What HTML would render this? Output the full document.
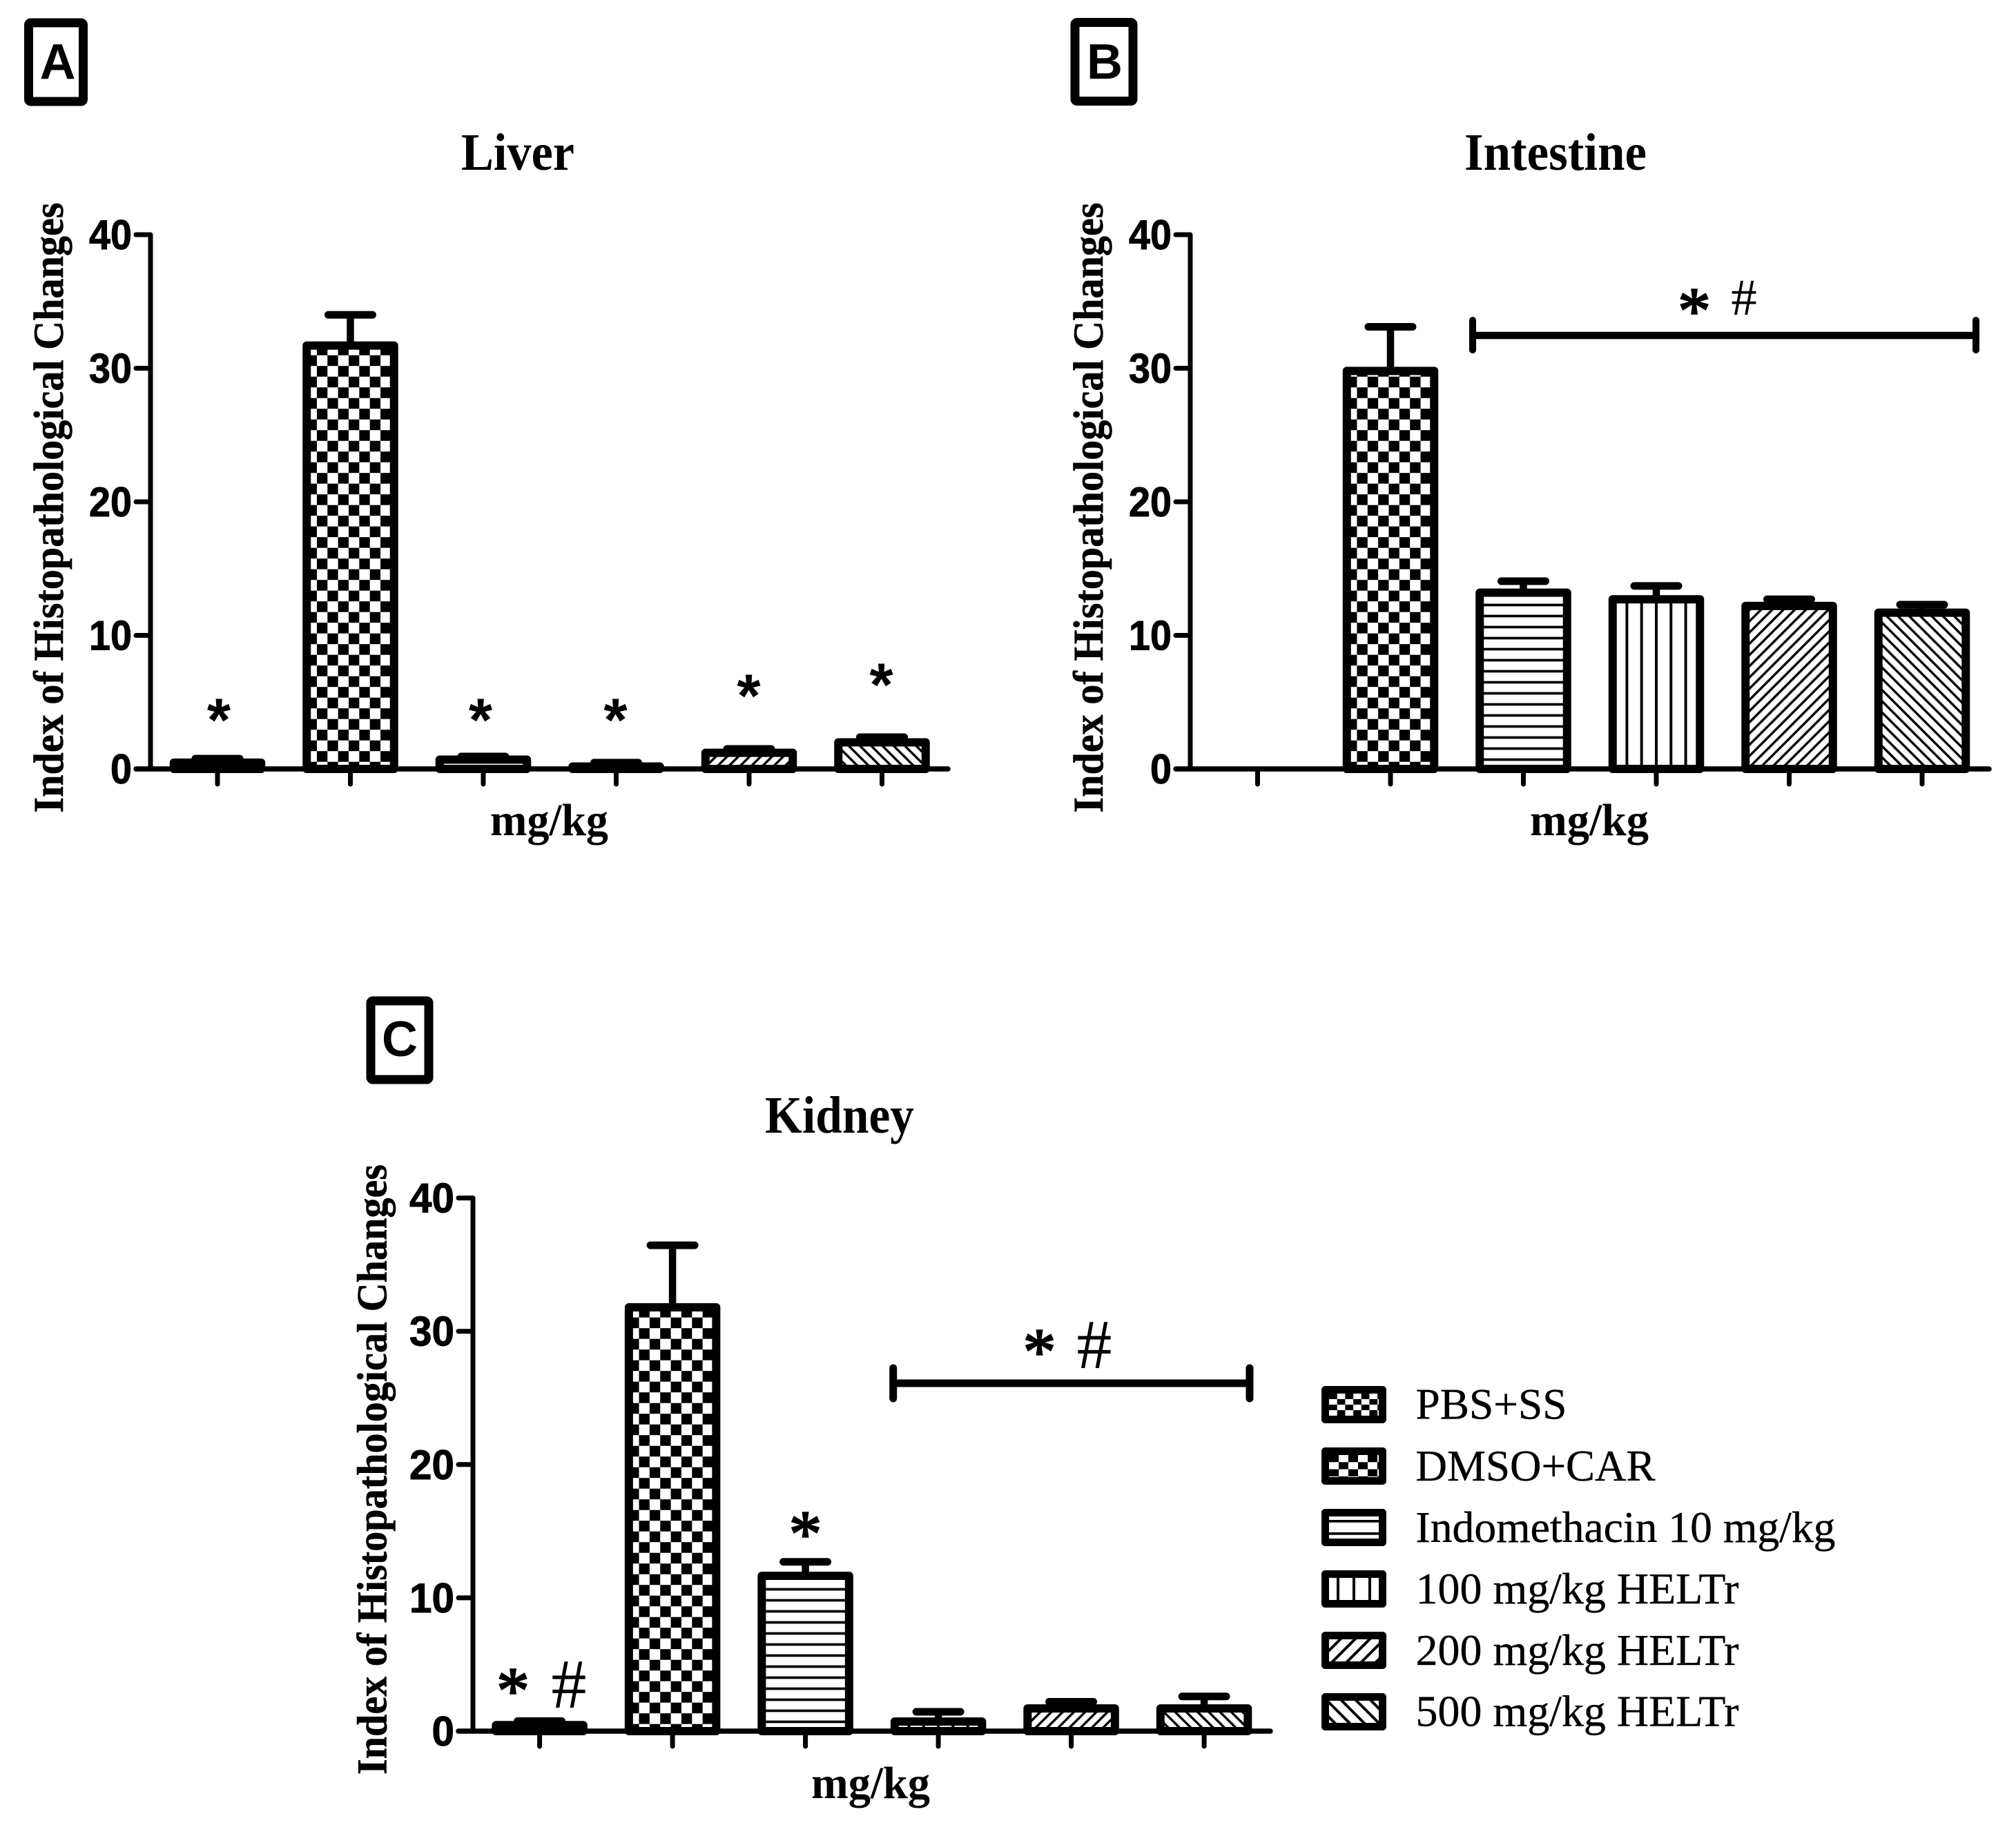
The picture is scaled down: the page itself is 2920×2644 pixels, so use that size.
<!DOCTYPE html>
<html lang="en">
<head>
<meta charset="utf-8">
<title>Index of Histopathological Changes</title>
<style>
html,body{margin:0;padding:0;background:#fff;width:2920px;height:2644px;overflow:hidden}
svg{display:block}
.serif{font-family:"Liberation Serif",serif}
.sans{font-family:"Liberation Sans",sans-serif}
.title{font-family:"Liberation Serif",serif;font-weight:bold;font-size:76px}
.ytitle{font-family:"Liberation Serif",serif;font-weight:bold;font-size:61px;stroke:#000;stroke-width:.6}
.xtitle{font-family:"Liberation Serif",serif;font-weight:bold;font-size:66px}
.tick{font-family:"Liberation Sans",sans-serif;font-weight:bold;font-size:60px;text-anchor:end;stroke:#000;stroke-width:1}
.letter{font-family:"Liberation Sans",sans-serif;font-weight:bold;font-size:72px;text-anchor:middle}
.star-a{font-family:"Liberation Sans",sans-serif;font-weight:bold;font-size:88px;text-anchor:middle}
.star{font-family:"Liberation Serif",serif;font-size:95px;text-anchor:middle;stroke:#000;stroke-width:2.4}
.legend{font-family:"Liberation Serif",serif;font-size:63px;stroke:#000;stroke-width:.4}
.box{fill:none;stroke:#000;stroke-width:13;stroke-linejoin:round}
.bracket{stroke:#000;stroke-linecap:round;fill:none}
</style>
</head>
<body>
<svg id="figure" xmlns="http://www.w3.org/2000/svg" width="2920" height="2644" viewBox="0 0 2920 2644">
  <rect width="2920" height="2644" fill="#fff"/>
  <defs id="pattern-defs"></defs>

  <!-- panel labels -->
  <g>
    <rect class="box" x="41.5" y="33" width="79" height="114" rx="3"/>
    <text class="letter" x="83.5" y="114">A</text>
  </g>
  <g>
    <rect class="box" x="1557" y="32.5" width="84" height="114" rx="3"/>
    <text class="letter" x="1600" y="114">B</text>
  </g>
  <g>
    <rect class="box" x="537" y="1450" width="84" height="114" rx="3"/>
    <text class="letter" x="579" y="1530">C</text>
  </g>

  <!-- titles -->
  <text class="title" x="668" y="246" textLength="164" lengthAdjust="spacingAndGlyphs">Liver</text>
  <text class="title" x="2121" y="246" textLength="264" lengthAdjust="spacingAndGlyphs">Intestine</text>
  <text class="title" x="1108" y="1641" textLength="216" lengthAdjust="spacingAndGlyphs">Kidney</text>

  <!-- y axis titles -->
  <text class="ytitle" transform="translate(91 1177.5) rotate(-90)" textLength="884" lengthAdjust="spacingAndGlyphs">Index of Histopathological Changes</text>
  <text class="ytitle" transform="translate(1597 1177.5) rotate(-90)" textLength="884" lengthAdjust="spacingAndGlyphs">Index of Histopathological Changes</text>
  <text class="ytitle" transform="translate(559.5 2571) rotate(-90)" textLength="884" lengthAdjust="spacingAndGlyphs">Index of Histopathological Changes</text>

  <!-- x axis titles -->
  <text class="xtitle" x="710" y="1210" textLength="171" lengthAdjust="spacingAndGlyphs">mg/kg</text>
  <text class="xtitle" x="2216" y="1210" textLength="172" lengthAdjust="spacingAndGlyphs">mg/kg</text>
  <text class="xtitle" x="1175" y="2605" textLength="172" lengthAdjust="spacingAndGlyphs">mg/kg</text>

  <g id="plots"></g>

  <!-- significance annotations panel A -->
  <text class="star-a" x="317" y="1073">*</text>
  <text class="star-a" x="696" y="1073">*</text>
  <text class="star-a" x="891.5" y="1073">*</text>
  <text class="star-a" x="1084.5" y="1038">*</text>
  <text class="star-a" x="1276.5" y="1022">*</text>

  <!-- significance annotations panel B -->
  <g>
    <line class="bracket" x1="2133" y1="486" x2="2862" y2="486" stroke-width="10.5"/>
    <line class="bracket" x1="2133" y1="464" x2="2133" y2="507" stroke-width="10"/>
    <line class="bracket" x1="2862" y1="464" x2="2862" y2="507" stroke-width="10"/>
  </g>
  <text class="star" x="2454" y="482">*</text>
  <text class="serif" x="2526" y="456" font-size="75" text-anchor="middle">#</text>

  <!-- significance annotations panel C -->
  <g>
    <line class="bracket" x1="1293.7" y1="2004" x2="1810" y2="2004" stroke-width="11"/>
    <line class="bracket" x1="1293.7" y1="1982" x2="1293.7" y2="2026" stroke-width="11"/>
    <line class="bracket" x1="1810" y1="1982" x2="1810" y2="2026" stroke-width="11"/>
  </g>
  <text class="star" x="1505.5" y="1990">*</text>
  <text class="serif" x="1585" y="1982" font-size="102" text-anchor="middle">#</text>
  <text class="star" x="743" y="2481">*</text>
  <text class="serif" x="824" y="2474" font-size="102" text-anchor="middle">#</text>
  <text class="star" x="1166.5" y="2254">*</text>

  <!-- legend -->
  <g id="legend-swatches"></g>
  <g>
    <text class="legend" x="2050.5" y="2055.7" textLength="219" lengthAdjust="spacingAndGlyphs">PBS+SS</text>
    <text class="legend" x="2050.5" y="2145" textLength="347" lengthAdjust="spacingAndGlyphs">DMSO+CAR</text>
    <text class="legend" x="2050.5" y="2234" textLength="608" lengthAdjust="spacingAndGlyphs">Indomethacin 10 mg/kg</text>
    <text class="legend" x="2050.5" y="2323" textLength="468" lengthAdjust="spacingAndGlyphs">100 mg/kg HELTr</text>
    <text class="legend" x="2050.5" y="2412" textLength="468" lengthAdjust="spacingAndGlyphs">200 mg/kg HELTr</text>
    <text class="legend" x="2050.5" y="2500.5" textLength="468" lengthAdjust="spacingAndGlyphs">500 mg/kg HELTr</text>
  </g>
</svg>

<script>
// ---- chart data ----
var categories = ['pbs-ss', 'dmso-car', 'indomethacin-10', 'heltr-100', 'heltr-200', 'heltr-500'];
var yTicks = [0, 10, 20, 30, 40];
var liverValues = [0.47, 31.7, 0.7, 0.18, 1.21, 1.99];
var liverErrors = [0.77, 34.0, 0.93, 0.47, 1.5, 2.38];
var intestineValues = [0, 29.8, 13.2, 12.7, 12.2, 11.7];
var intestineErrors = [0, 33.1, 14.06, 13.7, 12.7, 12.3];
var kidneyValues = [0.45, 31.8, 11.65, 0.72, 1.7, 1.7];
var kidneyErrors = [0.75, 36.45, 12.7, 1.45, 2.2, 2.6];

// ---- layout ----
var SVGNS = 'http://www.w3.org/2000/svg';
var BAR_WIDTH = 126.5, BAR_STROKE = 12, BAR_STEP = 192.5, CAP_HALF = 32;
var defs = document.getElementById('pattern-defs');

function node(tag, parent, attrs) {
  var el = document.createElementNS(SVGNS, tag);
  for (var k in attrs) el.setAttribute(k, attrs[k]);
  parent.appendChild(el);
  return el;
}

function addPattern(id, kind, ox, oy, legendMode) {
  var p, w, h;
  if (kind === 'pbs-ss' || kind === 'dmso-car') {
    w = 30.7; h = 31;
    if (legendMode && kind === 'pbs-ss') { w = 23.4; h = 16; }
    if (legendMode && kind === 'dmso-car') { w = 28; h = 20.6; }
    if (!legendMode && kind === 'pbs-ss') { w = 19; h = 19; }
    p = node('pattern', defs, {id: id, patternUnits: 'userSpaceOnUse', x: ox, y: oy, width: w, height: h});
    node('rect', p, {x: 0, y: 0, width: w, height: h, fill: '#fff'});
    node('rect', p, {x: 0, y: 0, width: w / 2, height: h / 2, fill: '#000'});
    node('rect', p, {x: w / 2, y: h / 2, width: w / 2, height: h / 2, fill: '#000'});
  } else if (kind === 'indomethacin-10') {
    h = legendMode ? 18 : 16;
    p = node('pattern', defs, {id: id, patternUnits: 'userSpaceOnUse', x: ox, y: oy, width: 16, height: h});
    node('rect', p, {x: 0, y: 0, width: 16, height: h, fill: '#fff'});
    node('rect', p, {x: 0, y: 0, width: 16, height: 3.7, fill: '#000'});
  } else if (kind === 'heltr-100') {
    w = legendMode ? 23 : 21.3;
    p = node('pattern', defs, {id: id, patternUnits: 'userSpaceOnUse', x: ox, y: oy, width: w, height: 16});
    node('rect', p, {x: 0, y: 0, width: w, height: 16, fill: '#fff'});
    node('rect', p, {x: 0, y: 0, width: 4, height: 16, fill: '#000'});
  } else {
    var t = legendMode ? 15 : 11.5;
    p = node('pattern', defs, {id: id, patternUnits: 'userSpaceOnUse', x: ox, y: oy, width: t, height: t,
      patternTransform: kind === 'heltr-200' ? 'rotate(45)' : 'rotate(-45)'});
    node('rect', p, {x: 0, y: 0, width: t, height: t, fill: '#fff'});
    node('rect', p, {x: 0, y: 0, width: legendMode ? 4 : 3.4, height: t, fill: '#000'});
  }
}

function patternOrigin(kind, cx, y0) {
  if (kind === 'indomethacin-10') return [cx, y0 - 15.35];
  if (kind === 'heltr-100') return [cx - 2, y0];
  if (kind === 'dmso-car') return [cx - 2.5, y0 - 10.3];
  if (kind === 'pbs-ss') return [cx, y0];
  return [0, 0];
}

function drawPanel(name, values, errors, axisX, firstX, endX, y40, y0, digitWidth) {
  var root = document.getElementById('plots');
  var g = node('g', root, {});
  
  
  var yScale = function (v) { return y0 - (v / 40) * (y0 - y40); };
  var xScale = function (i) { return firstX + i * BAR_STEP; };

  categories.forEach(function (cat, i) {
    var cx = xScale(i);
    var v = values[i], e = errors[i];
    if (v > 0) {
      var errG = node('g', g, {});
      
      
      node('line', errG, {x1: cx, x2: cx, y1: yScale(v), y2: yScale(e), stroke: '#000', 'stroke-width': 10.5});
      node('line', errG, {x1: cx - CAP_HALF, x2: cx + CAP_HALF, y1: yScale(e), y2: yScale(e), stroke: '#000', 'stroke-width': 11, 'stroke-linecap': 'round'});

      var id = 'fill-' + name + '-' + cat;
      var o = patternOrigin(cat, cx, y0);
      addPattern(id, cat, o[0], o[1], false);
      var bar = node('rect', g, {
        x: cx - BAR_WIDTH / 2, y: yScale(v), width: BAR_WIDTH, height: y0 - yScale(v),
        fill: 'url(#' + id + ')', stroke: '#000', 'stroke-width': BAR_STROKE, 'stroke-linejoin': 'round'
      });
      
      
    }
    var xt = node('line', g, {x1: cx, x2: cx, y1: y0, y2: y0 + 22, stroke: '#000', 'stroke-width': 7, 'stroke-linecap': 'round'});
    
    
  });

  var yAxis = node('line', g, {x1: axisX, x2: axisX, y1: y40, y2: y0, stroke: '#000', 'stroke-width': 7});
  
  
  var xAxis = node('line', g, {x1: axisX - 21, x2: endX, y1: y0, y2: y0, stroke: '#000', 'stroke-width': 7.5, 'stroke-linecap': 'round'});
  
  

  yTicks.forEach(function (t) {
    var yy = yScale(t);
    var tl = node('line', g, {x1: axisX - 21, x2: axisX, y1: yy, y2: yy, stroke: '#000', 'stroke-width': 7, 'stroke-linecap': 'round'});
    
    
    var labelText = String(t);
    var lab = node('text', g, {x: axisX - 27, y: yy + 21, 'class': 'tick', textLength: labelText.length * digitWidth, lengthAdjust: 'spacingAndGlyphs'});
    lab.textContent = labelText;
    
    
  });
}

drawPanel('liver', liverValues, liverErrors, 218, 315, 1373, 340, 1114, 31);
drawPanel('intestine', intestineValues, intestineErrors, 1724, 1821.5, 2881, 340, 1114, 31);
drawPanel('kidney', kidneyValues, kidneyErrors, 685, 781.6, 1840, 1735.6, 2508, 32.5);

// legend swatches
var swatchParent = document.getElementById('legend-swatches');
categories.forEach(function (cat, i) {
  var sy = 2013.5 + i * 89;
  var id = 'legend-fill-' + cat;
  var oy = sy + 5.5;
  if (cat === 'indomethacin-10') oy = sy + 10.5;
  var ox = 1925;
  if (cat === 'heltr-100') ox = 1936;
  addPattern(id, cat, ox, oy, true);
  var sw = node('rect', swatchParent, {
    x: 1919.5, y: sy, width: 83, height: 43,
    fill: 'url(#' + id + ')', stroke: '#000', 'stroke-width': 11, 'stroke-linejoin': 'round'
  });
  
  
});
</script>
</body>
</html>
